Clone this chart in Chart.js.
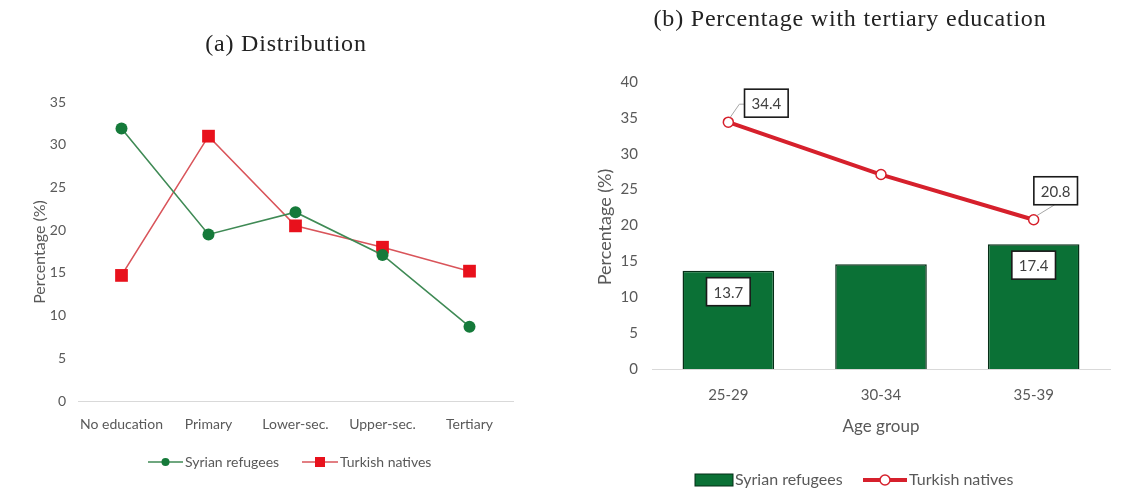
<!DOCTYPE html>
<html>
<head>
<meta charset="utf-8">
<script src="https://cdn.jsdelivr.net/npm/chart.js@4.4.1/dist/chart.umd.min.js"></script>
<style>
  html, body { margin: 0; padding: 0; background: #fff; }
  #wrap { position: relative; width: 1126px; height: 495px; overflow: hidden; }
  #distChart { position: absolute; left: 0; top: 0; }
  #tertChart { position: absolute; left: 565px; top: 0; }
</style>
</head>
<body>
<div id="wrap">
  <canvas id="distChart" width="560" height="495"></canvas>
  <canvas id="tertChart" width="561" height="495"></canvas>
</div>
<script>
// Panel (a): distribution of education levels
const educationLevels = ['No education', 'Primary', 'Lower-sec.', 'Upper-sec.', 'Tertiary'];
const syrianDistribution = [31.9, 19.5, 22.1, 17.1, 8.7];
const turkishDistribution = [14.7, 31.0, 20.5, 18.0, 15.2];

// Panel (b): share with tertiary education by age group
const ageGroups = ['25-29', '30-34', '35-39'];
const syrianTertiary = [13.7, 14.6, 17.4];
const turkishTertiary = [34.4, 27.1, 20.8];

const seriesNames = ['Syrian refugees', 'Turkish natives'];
const panelTitles = ['(a) Distribution', '(b) Percentage with tertiary education'];
const yAxisTitle = 'Percentage (%)';
const xAxisTitleB = 'Age group';

// which points carry a boxed value label in panel (b)
const labelledBars = [0, 2];
const labelledLinePoints = [0, 2];

const GREEN = '#157a3a';
const GREEN_LINE = '#3f8a55';
const RED = '#e8111c';
const RED_LINE = '#d9545a';
const RED_B = '#d6202c';
const BAR_FILL = '#0b7136';
const BAR_EDGE = '#052e16';
const TICK = '#595959';
const SANS = 'Lato, "Open Sans", sans-serif';
const SERIF = '"Liberation Serif", "DejaVu Serif", serif';

function text(ctx, str, x, y, font, color, align, rot, spacing) {
  ctx.save();
  ctx.font = font;
  ctx.fillStyle = color;
  ctx.textAlign = align || 'center';
  ctx.textBaseline = 'middle';
  if (spacing) ctx.letterSpacing = spacing;
  ctx.translate(x, y);
  if (rot) ctx.rotate(rot);
  ctx.fillText(str, 0, 0);
  ctx.restore();
}

// ---------- panel (a) ----------
const distDecor = {
  id: 'distDecor',
  afterDraw(chart) {
    const ctx = chart.ctx;
    text(ctx, panelTitles[0], 286, 45, '24px ' + SERIF, '#222', 'center', 0, '0.8px');
    text(ctx, yAxisTitle, 40, 252, '16px ' + SANS, TICK, 'center', -Math.PI / 2);

    // legend
    const y = 462;
    ctx.save();
    ctx.lineWidth = 1.5;
    ctx.strokeStyle = GREEN_LINE;
    ctx.beginPath(); ctx.moveTo(148, y); ctx.lineTo(183, y); ctx.stroke();
    ctx.fillStyle = GREEN;
    ctx.beginPath(); ctx.arc(165.5, y, 4, 0, Math.PI * 2); ctx.fill();
    ctx.strokeStyle = RED_LINE;
    ctx.beginPath(); ctx.moveTo(302, y); ctx.lineTo(338, y); ctx.stroke();
    ctx.fillStyle = RED;
    ctx.fillRect(315, y - 5, 10, 10);
    ctx.restore();
    text(ctx, seriesNames[0], 185, y, '14px ' + SANS, TICK, 'left');
    text(ctx, seriesNames[1], 340, y, '14px ' + SANS, TICK, 'left');
  }
};

new Chart(document.getElementById('distChart'), {
  type: 'line',
  data: {
    labels: educationLevels,
    datasets: [
      {
        label: seriesNames[0],
        data: syrianDistribution,
        borderColor: GREEN_LINE,
        borderWidth: 1.6,
        pointStyle: 'circle',
        pointRadius: 6,
        pointBackgroundColor: GREEN,
        pointBorderColor: GREEN,
        pointBorderWidth: 0,
        tension: 0
      },
      {
        label: seriesNames[1],
        data: turkishDistribution,
        borderColor: RED_LINE,
        borderWidth: 1.6,
        pointStyle: 'rect',
        pointRadius: 9,
        pointBackgroundColor: RED,
        pointBorderColor: RED,
        pointBorderWidth: 0,
        tension: 0
      }
    ]
  },
  options: {
    responsive: false,
    animation: false,
    layout: { padding: { left: 0, right: 47, top: 102, bottom: 0 } },
    plugins: { legend: { display: false }, title: { display: false }, tooltip: { enabled: false } },
    scales: {
      x: {
        offset: true,
        grid: { display: false, drawTicks: false },
        border: { display: true, color: '#d9d9d9', width: 1 },
        ticks: { color: TICK, font: { family: SANS, size: 14 }, padding: 15, maxRotation: 0, minRotation: 0, autoSkip: false },
        afterFit(s) { s.height = 94; }
      },
      y: {
        min: 0, max: 35,
        grid: { display: false, drawTicks: false },
        border: { display: false },
        ticks: { stepSize: 5, color: TICK, font: { family: SANS, size: 14 }, padding: 12 },
        afterFit(s) { s.width = 78; }
      }
    }
  },
  plugins: [distDecor]
});

// ---------- panel (b) ----------
function boxLabel(ctx, str, cx, cy) {
  ctx.save();
  ctx.font = '15px ' + SANS;
  const w = ctx.measureText(str).width + 14;
  const h = 28;
  ctx.fillStyle = '#fff';
  ctx.fillRect(cx - w / 2, cy - h / 2, w, h);
  ctx.strokeStyle = '#1a1a1a';
  ctx.lineWidth = 1.6;
  ctx.strokeRect(cx - w / 2, cy - h / 2, w, h);
  ctx.restore();
  text(ctx, str, cx, cy + 1, '15px ' + SANS, '#404040');
  return w;
}

const tertDecor = {
  id: 'tertDecor',
  afterDatasetsDraw(chart) {
    const ctx = chart.ctx;
    const barMeta = chart.getDatasetMeta(0);
    const lineMeta = chart.getDatasetMeta(1);

    labelledBars.forEach(i => {
      const el = barMeta.data[i];
      boxLabel(ctx, syrianTertiary[i].toFixed(1), el.x, el.y + 21);
    });

    labelledLinePoints.forEach((i, k) => {
      const p = lineMeta.data[i];
      ctx.save();
      ctx.strokeStyle = '#a6a6a6';
      ctx.lineWidth = 1;
      ctx.beginPath();
      if (k === 0) {
        const cx = p.x + 38, cy = p.y - 19;
        ctx.moveTo(p.x + 2, p.y - 5);
        ctx.lineTo(p.x + 11, p.y - 18);
        ctx.lineTo(cx - 18, p.y - 18);
        ctx.stroke();
        ctx.restore();
        boxLabel(ctx, turkishTertiary[i].toFixed(1), cx, cy);
      } else {
        const cx = p.x + 22, cy = p.y - 29;
        ctx.moveTo(p.x + 3, p.y - 4);
        ctx.lineTo(p.x + 21, p.y - 15);
        ctx.stroke();
        ctx.restore();
        boxLabel(ctx, turkishTertiary[i].toFixed(1), cx, cy);
      }
    });
  },
  afterDraw(chart) {
    const ctx = chart.ctx;
    text(ctx, panelTitles[1], 285, 20, '24px ' + SERIF, '#222', 'center', 0, '0.8px');
    text(ctx, yAxisTitle, 40, 227, '18px ' + SANS, TICK, 'center', -Math.PI / 2);
    text(ctx, xAxisTitleB, 316, 427, '17px ' + SANS, TICK);

    // legend
    const y = 480;
    ctx.save();
    ctx.fillStyle = BAR_FILL;
    ctx.strokeStyle = BAR_EDGE;
    ctx.lineWidth = 1;
    ctx.fillRect(130, y - 6, 38, 12);
    ctx.strokeRect(130, y - 6, 38, 12);
    ctx.strokeStyle = RED_B;
    ctx.lineWidth = 4;
    ctx.beginPath(); ctx.moveTo(298, y); ctx.lineTo(342, y); ctx.stroke();
    ctx.fillStyle = '#fff';
    ctx.lineWidth = 1.5;
    ctx.beginPath(); ctx.arc(320, y, 5, 0, Math.PI * 2); ctx.fill(); ctx.stroke();
    ctx.restore();
    text(ctx, seriesNames[0], 170, y, '16px ' + SANS, TICK, 'left');
    text(ctx, seriesNames[1], 344, y, '16px ' + SANS, TICK, 'left');
  }
};

new Chart(document.getElementById('tertChart'), {
  data: {
    labels: ageGroups,
    datasets: [
      {
        type: 'bar',
        label: seriesNames[0],
        data: syrianTertiary,
        backgroundColor: BAR_FILL,
        borderColor: BAR_EDGE,
        borderWidth: 1.5,
        barPercentage: 1,
        categoryPercentage: 0.6,
        order: 1
      },
      {
        type: 'line',
        label: seriesNames[1],
        data: turkishTertiary,
        borderColor: RED_B,
        borderWidth: 4,
        pointStyle: 'circle',
        pointRadius: 5,
        pointBackgroundColor: '#fff',
        pointBorderColor: RED_B,
        pointBorderWidth: 1.5,
        tension: 0,
        order: 0
      }
    ]
  },
  options: {
    responsive: false,
    animation: false,
    layout: { padding: { left: 0, right: 16, top: 82, bottom: 0 } },
    plugins: { legend: { display: false }, title: { display: false }, tooltip: { enabled: false } },
    scales: {
      x: {
        offset: true,
        grid: { display: false, drawTicks: false },
        border: { display: true, color: '#d9d9d9', width: 1 },
        ticks: { color: TICK, font: { family: SANS, size: 15 }, padding: 17, maxRotation: 0, autoSkip: false },
        afterFit(s) { s.height = 126; }
      },
      y: {
        min: 0, max: 40,
        grid: { display: false, drawTicks: false },
        border: { display: false },
        ticks: { stepSize: 5, color: TICK, font: { family: SANS, size: 15 }, padding: 14 },
        afterFit(s) { s.width = 87; }
      }
    }
  },
  plugins: [tertDecor]
});
</script>
</body>
</html>
